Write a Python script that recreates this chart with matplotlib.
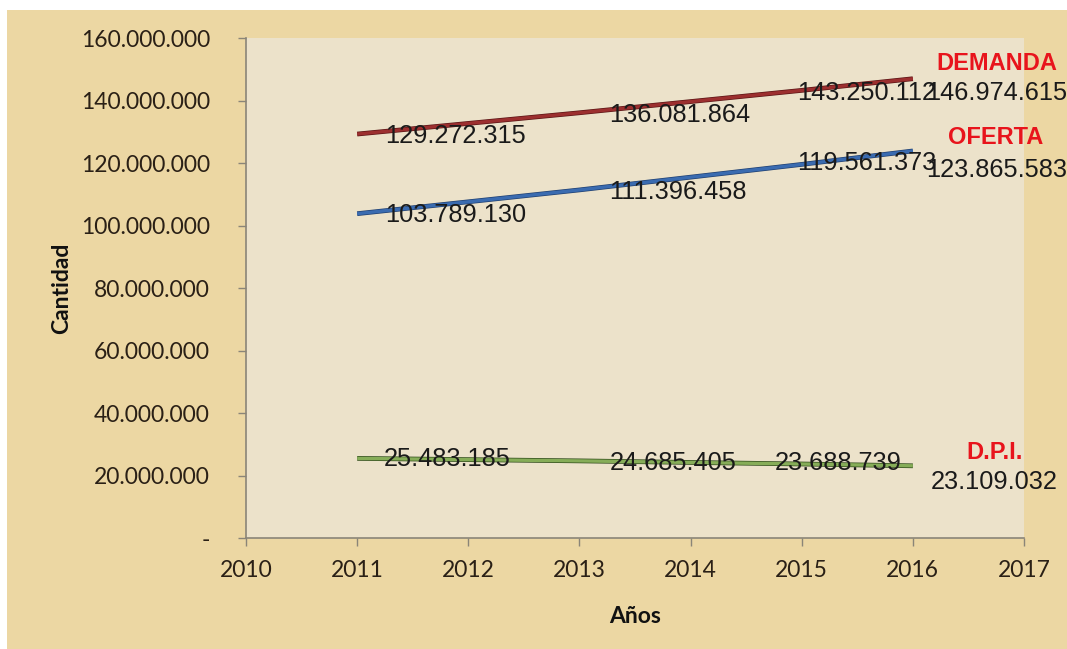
import matplotlib
matplotlib.use("Agg")
import matplotlib.pyplot as plt
import matplotlib.patheffects as pe
from matplotlib.patches import Rectangle
from matplotlib.ticker import FuncFormatter

# datos
anios = [2011, 2013, 2015, 2016]
demanda = [129272315, 136081864, 143250112, 146974615]
oferta = [103789130, 111396458, 119561373, 123865583]
dpi_serie = [25483185, 24685405, 23688739, 23109032]


def miles(v):
    if v == 0:
        return "-"
    return f"{v:,.0f}".replace(",", ".")


fig = plt.figure(figsize=(10.67, 6.49), dpi=100)
fig.patch.set_facecolor("white")
# fondo tipo pergamino
fig.add_artist(Rectangle((0.0066, 0.0), 0.9934, 0.9846, transform=fig.transFigure,
                         facecolor="#ecd7a3", edgecolor="none", zorder=0))

ax = fig.add_axes([0.2306, 0.1710, 0.7291, 0.7704])
ax.set_facecolor("#ece2ca")

series = [
    (demanda, "#9c2f2f", "#5a1414", [(28, -2), (30, -2), (-5, -3), (13, -14)]),
    (oferta, "#3a6bb0", "#1f3f70", [(28, -1), (30, -2), (-5, 1), (13, -19)]),
    (dpi_serie, "#86ad58", "#2f4a1a", [(27, -1), (30, -2), (-27, 1), (18, -16)]),
]
for vals, color, borde, offs in series:
    ax.plot(anios, vals, color=color, lw=2.4, solid_capstyle="butt",
            path_effects=[pe.Stroke(linewidth=3.4, foreground=borde), pe.Normal()])
    for x, y, (dx, dy) in zip(anios, vals, offs):
        ax.annotate(miles(y), (x, y), xytext=(dx, dy), textcoords="offset pixels",
                    ha="left", va="center", fontsize=18.3, color="#1a1a1a",
                    family="Liberation Sans", annotation_clip=False)

# nombres de las series
nombres = [("DEMANDA", 2016, demanda[-1], (24, 15)),
           ("OFERTA", 2016, oferta[-1], (35, 13)),
           ("D.P.I.", 2016, dpi_serie[-1], (54, 13))]
for txt, x, y, (dx, dy) in nombres:
    ax.annotate(txt, (x, y), xytext=(dx, dy), textcoords="offset pixels",
                ha="left", va="center", fontsize=17, fontweight="bold",
                color="#e8141c", family="Liberation Sans", annotation_clip=False)

ax.set_xlim(2010, 2017)
ax.set_ylim(0, 160000000)
ax.set_xticks(range(2010, 2018))
ax.set_yticks(range(0, 160000001, 20000000))
ax.yaxis.set_major_formatter(FuncFormatter(lambda v, p: miles(v)))

for s in ["top", "right"]:
    ax.spines[s].set_visible(False)
for s in ["left", "bottom"]:
    ax.spines[s].set_color("#8a8578")
    ax.spines[s].set_linewidth(1.2)

ax.tick_params(axis="y", length=6, width=1, color="#8a8578", pad=20,
               labelsize=16.5, labelcolor="#2a2016")
ax.tick_params(axis="x", length=6, width=1, color="#8a8578", pad=10,
               labelsize=16.5, labelcolor="#2a2016")
for lab in ax.get_xticklabels() + ax.get_yticklabels():
    lab.set_family("Lato")

ax.set_ylabel("Cantidad", fontsize=16.5, fontweight="bold", family="Lato",
              color="#111111")
ax.set_xlabel("Años", fontsize=16.5, fontweight="bold", family="Lato",
              color="#111111")
ax.yaxis.set_label_coords(-0.224, 0.5)
ax.xaxis.set_label_coords(0.5, -0.135)

fig.savefig("out.png", dpi=100)
